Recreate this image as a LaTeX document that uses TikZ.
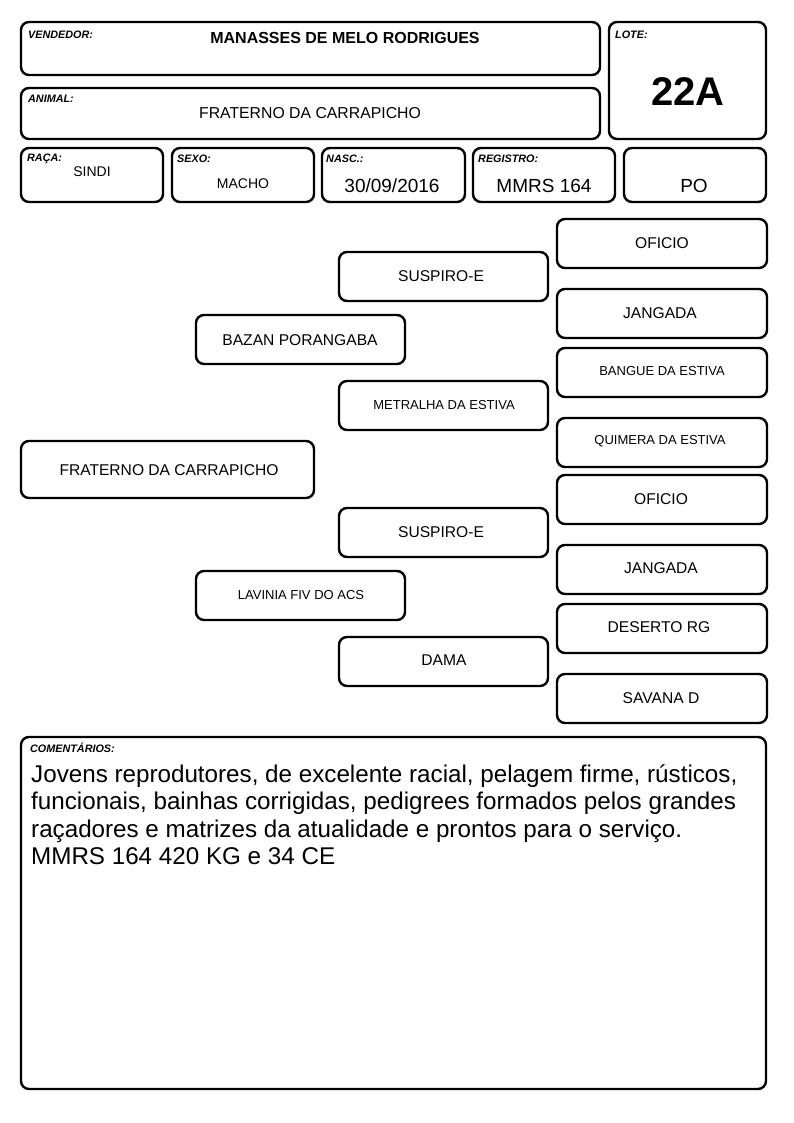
\documentclass[tikz,border=0pt]{standalone}
\usepackage{fontspec}
\setmainfont{Liberation Sans}
\begin{document}
\begin{tikzpicture}[x=1pt,y=-1pt,
  box/.style={draw=black,line width=2.4pt,rounded corners=8pt,fill=white},
  lbl/.style={anchor=west,inner sep=0pt,font=\fontsize{10.8}{12}\selectfont\bfseries\itshape},
  val/.style={inner sep=0pt,font=\fontsize{15.8}{17}\selectfont},
  ped/.style={inner sep=0pt,font=\fontsize{15.6}{17}\selectfont},
  peds/.style={inner sep=0pt,font=\fontsize{13}{14}\selectfont},
  big/.style={inner sep=0pt,font=\fontsize{19}{21}\selectfont}]
\useasboundingbox (0,0) rectangle (794,1123);
\fill[white] (0,0) rectangle (794,1123);
% header boxes
\draw[box] (21,22) rectangle (600,75);
\draw[box] (21,88) rectangle (600,139);
\draw[box] (609,22) rectangle (766,139);
\draw[box] (21,148) rectangle (163,202);
\draw[box] (172,148) rectangle (314,202);
\draw[box] (322,148) rectangle (465,202);
\draw[box] (473,148) rectangle (615,202);
\draw[box] (624,148) rectangle (766,202);
\node[lbl] (lvend) at (28,35) {VENDEDOR:};
\node[inner sep=0pt,font=\fontsize{16}{18}\selectfont\bfseries] (vend) at (345,37.5) {MANASSES DE MELO RODRIGUES};
\node[lbl] (lanim) at (28,99) {ANIMAL:};
\node[val] (anim) at (310,113) {FRATERNO DA CARRAPICHO};
\node[lbl] (llote) at (615,35) {LOTE:};
\node[inner sep=0pt,font=\fontsize{40}{44}\selectfont\bfseries] (lote) at (688,91.5) {22A};
\node[lbl] (lraca) at (27,159) {RAÇA:};
\node[inner sep=0pt,font=\fontsize{14}{16}\selectfont] (raca) at (92,172) {SINDI};
\node[lbl] (lsexo) at (177,159) {SEXO:};
\node[inner sep=0pt,font=\fontsize{14}{16}\selectfont] (sexo) at (243,184) {MACHO};
\node[lbl] (lnasc) at (326,159) {NASC.:};
\node[big] (nasc) at (392,186) {30/09/2016};
\node[lbl] (lreg) at (478,159) {REGISTRO:};
\node[big] (reg) at (544,186) {MMRS 164};
\node[big] (po) at (694,186) {PO};
% pedigree
\draw[box] (557,219) rectangle (767,268);
\node[ped] (g1) at (662,243) {OFICIO};
\draw[box] (339,252) rectangle (548,301);
\node[ped] (p1) at (441,276) {SUSPIRO-E};
\draw[box] (557,289) rectangle (767,338);
\node[ped] (g2) at (660,313) {JANGADA};
\draw[box] (196,315) rectangle (405,364);
\node[ped] (s) at (300,340) {BAZAN PORANGABA};
\draw[box] (557,348) rectangle (767,397);
\node[peds] (g3) at (662,371) {BANGUE DA ESTIVA};
\draw[box] (339,381) rectangle (548,430);
\node[peds] (p2) at (444,405) {METRALHA DA ESTIVA};
\draw[box] (557,418) rectangle (767,467);
\node[peds] (g4) at (660,441) {QUIMERA DA ESTIVA};
\draw[box] (21,441) rectangle (314,498);
\node[ped] (an) at (169,470) {FRATERNO DA CARRAPICHO};
\draw[box] (557,475) rectangle (767,524);
\node[ped] (g5) at (661,499) {OFICIO};
\draw[box] (339,508) rectangle (548,557);
\node[ped] (p3) at (441,532) {SUSPIRO-E};
\draw[box] (557,545) rectangle (767,594);
\node[ped] (g6) at (661,568) {JANGADA};
\draw[box] (196,571) rectangle (405,620);
\node[peds] (d) at (301,595) {LAVINIA FIV DO ACS};
\draw[box] (557,604) rectangle (767,653);
\node[ped] (g7) at (659,627) {DESERTO RG};
\draw[box] (339,637) rectangle (548,686);
\node[ped] (p4) at (444,660) {DAMA};
\draw[box] (557,674) rectangle (767,723);
\node[ped] (g8) at (661,698) {SAVANA D};
% comments
\draw[box] (21,737) rectangle (766,1089);
\node[lbl] (lcom) at (30,748) {COMENTÁRIOS:};
\node[anchor=north west,inner sep=0pt,align=left,font=\fontsize{24.2}{27.6}\selectfont] (com) at (31,764)
{Jovens reprodutores, de excelente racial, pelagem firme, rústicos,\\
funcionais, bainhas corrigidas, pedigrees formados pelos grandes\\
raçadores e matrizes da atualidade e prontos para o serviço.\\
MMRS 164 420 KG e 34 CE};
\end{tikzpicture}
\end{document}
